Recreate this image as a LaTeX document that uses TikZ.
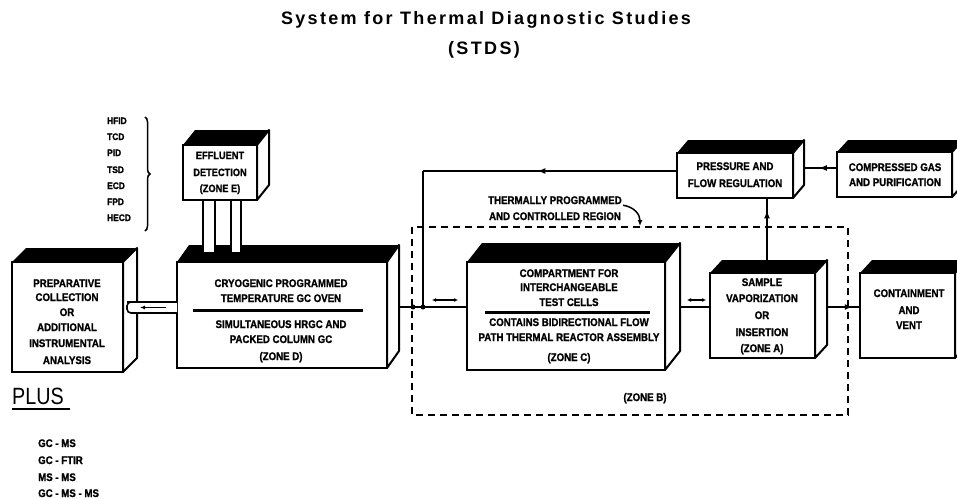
\documentclass[tikz,border=0pt]{standalone}
\usepackage{fontspec}
\setmainfont{Liberation Sans}
\newfontfamily\boxf[FakeStretch=0.88,FakeBold=1.2]{Liberation Sans Bold}
\newfontfamily\titlef[LetterSpace=13]{Liberation Sans}
\newfontfamily\plusf[FakeStretch=0.84]{Liberation Sans}
\usetikzlibrary{calc,arrows.meta,decorations.pathreplacing,decorations.markings}

\tikzset{
  front/.style={draw, line width=2.2pt, fill=white, anchor=north west, inner sep=0pt, outer sep=0pt},
  boxline/.style={line width=2pt},
  lbl/.style={font=\boxf\fontsize{11}{13}\selectfont, anchor=base, inner sep=0pt},
  smalllbl/.style={font=\boxf\fontsize{10.5}{12}\selectfont, anchor=base, inner sep=0pt},
  det/.style={font=\boxf\fontsize{9.5}{11}\selectfont, anchor=base west, inner sep=0pt},
  flow/.style={line width=1.8pt},
  tipmark/.style={postaction={decorate}, decoration={markings, mark=at position #1 with {\arrow{Latex[length=8pt,width=6pt]}}}},
  bidir/.style={line width=1.2pt, {Latex[length=4pt,width=4pt]}-{Latex[length=4pt,width=4pt]}},
  region/.style={line width=2pt, dash pattern=on 7pt off 5pt},
}
\newcommand\mkdepth[3]{%
  \fill (#1.north west) -- ++(#2,-#3) -- ($(#1.north east)+(#2,-#3)$) -- (#1.north east) -- cycle;
  \draw[boxline, fill=white, line join=round] (#1.north east) -- ++(#2,-#3) -- ($(#1.south east)+(#2,-#3)$) -- (#1.south east) -- cycle;
}

\begin{document}
\begin{tikzpicture}[x=1pt, y=-1pt]
\path[use as bounding box] (0,0) rectangle (957,498);
\clip (0,0) rectangle (957,498);

% Title
\node[font=\titlef\bfseries\fontsize{18}{20}\selectfont, anchor=base, inner sep=0pt] (title) at (486,24.5) {System for Thermal Diagnostic Studies};
\node[font=\titlef\bfseries\fontsize{18}{20}\selectfont, anchor=base, inner sep=0pt] (stds) at (484,54.5) {(STDS)};

% Detector list and brace
\node[det] (d1) at (107,124) {HFID};
\node[det] (d2) at (107,140) {TCD};
\node[det] (d3) at (107,156) {PID};
\node[det] (d4) at (107,173) {TSD};
\node[det] (d5) at (107,189) {ECD};
\node[det] (d6) at (107,205) {FPD};
\node[det] (d7) at (107,221) {HECD};
\draw[line width=1.5pt, decorate, decoration={brace, amplitude=5pt}] (145,117) -- (145,231);

% Dashed region
\draw[region] (412,227) rectangle (848,415);
\node[lbl] (thermA) at (555,204) {THERMALLY PROGRAMMED};
\node[lbl] (thermB) at (555,220) {AND CONTROLLED REGION};
\draw[line width=1.5pt, -{Latex[length=6pt,width=5pt]}] (thermB.east) ++(2,-11) .. controls (634,207) and (640,214) .. (640,226);
\node[lbl] (zoneB) at (645,401) {(ZONE B)};

% Effluent detection
\node[front, minimum width=74, minimum height=55] (eff) at (183,145) {};
\mkdepth{eff}{12}{15}
\node[smalllbl] (effA) at (220,159) {EFFLUENT};
\node[smalllbl] (effB) at (220,176) {DETECTION};
\node[smalllbl] (effC) at (220,192) {(ZONE E)};

% Preparative collection
\node[front, minimum width=111, minimum height=110] (prep) at (12,262) {};
\mkdepth{prep}{14}{14}
\node[lbl] (prA) at (67,287) {PREPARATIVE};
\node[lbl] (prB) at (67,301) {COLLECTION};
\node[lbl] (prC) at (67,316) {OR};
\node[lbl] (prD) at (67,331) {ADDITIONAL};
\node[lbl] (prE) at (67,347) {INSTRUMENTAL};
\node[lbl] (prF) at (67,364) {ANALYSIS};

% Oven (zone D)
\node[front, minimum width=210, minimum height=106] (oven) at (177,262) {};
\mkdepth{oven}{12}{17}
\node[lbl] (ovA) at (281,287) {CRYOGENIC PROGRAMMED};
\node[lbl] (ovB) at (281,302) {TEMPERATURE GC OVEN};
\draw[line width=3pt] (193,310) -- (363,310);
\node[lbl] (ovC) at (281,328) {SIMULTANEOUS HRGC AND};
\node[lbl] (ovD) at (281,343) {PACKED COLUMN GC};
\node[lbl] (ovE) at (281,360) {(ZONE D)};

% tubes to effluent detector
\draw[line width=1.6pt, fill=white] (203,200) rectangle (215,253);
\draw[line width=1.6pt, fill=white] (231,200) rectangle (241,253);

% tube oven -> preparative
\draw[line width=1.6pt, fill=white, rounded corners=4pt] (177,302) -- (131,302) -- (127,302) -- (127,313) -- (177,313);
\draw[line width=1.4pt, -{Latex[length=5pt,width=4pt]}] (166,307.5) -- (140,307.5);

% Compartment (zone C)
\node[front, minimum width=198, minimum height=108] (zc) at (467,262) {};
\mkdepth{zc}{15}{19}
\node[lbl] (zcA) at (569,277) {COMPARTMENT FOR};
\node[lbl] (zcB) at (569,291) {INTERCHANGEABLE};
\node[lbl] (zcC) at (569,306) {TEST CELLS};
\draw[line width=3pt] (485,312) -- (650,312);
\node[lbl] (zcD) at (569,326) {CONTAINS BIDIRECTIONAL FLOW};
\node[lbl] (zcE) at (569,341) {PATH THERMAL REACTOR ASSEMBLY};
\node[lbl] (zcF) at (569,361) {(ZONE C)};

% Sample vaporization (zone A)
\node[front, minimum width=105, minimum height=85] (za) at (710,273) {};
\mkdepth{za}{12}{13}
\node[lbl] (zaA) at (762,286) {SAMPLE};
\node[lbl] (zaB) at (762,302) {VAPORIZATION};
\node[lbl] (zaC) at (762,319) {OR};
\node[lbl] (zaD) at (762,336) {INSERTION};
\node[lbl] (zaE) at (762,352) {(ZONE A)};

% Containment and vent
\node[front, minimum width=95, minimum height=85] (vent) at (860,273) {};
\mkdepth{vent}{12}{13}
\node[lbl] (veA) at (909,297) {CONTAINMENT};
\node[lbl] (veB) at (909,314) {AND};
\node[lbl] (veC) at (909,329) {VENT};

% Pressure and flow regulation
\node[front, minimum width=116, minimum height=45] (press) at (677,153) {};
\mkdepth{press}{11}{13}
\node[lbl] (psA) at (735,170) {PRESSURE AND};
\node[lbl] (psB) at (735,187) {FLOW REGULATION};

% Compressed gas
\node[front, minimum width=115, minimum height=45] (gas) at (837,152) {};
\mkdepth{gas}{11}{12}
\node[lbl] (gsA) at (895,171) {COMPRESSED GAS};
\node[lbl] (gsB) at (895,186) {AND PURIFICATION};

% connector coordinates
\coordinate (ovenR) at (399,307);
\coordinate (jn) at (423,307);
\coordinate (jnTop) at (423,171);
\coordinate (pressL) at (677,171);
\coordinate (zcL) at (467,307);
\coordinate (zcR) at (680,307);
\coordinate (zaL) at (710,307);
\coordinate (zaR) at (827,307);
\coordinate (ventL) at (860,307);
\coordinate (pressB) at (767,198);
\coordinate (zaT) at (767,260);
\coordinate (pressR) at (804,168);
\coordinate (gasL) at (837,168);

\draw[flow] (ovenR) -- (zcL);
\draw[flow, tipmark=0.55] (pressL) -- (jnTop);
\draw[flow] (jnTop) -- (jn);
\fill (jn) circle (2.5pt);
\fill (413,307) circle (2.5pt);
\draw[bidir] (432,300) -- (458,300);
\draw[flow] (zcR) -- (zaL);
\draw[bidir] (687,300) -- (706,300);
\draw[flow, tipmark=0.78] (zaR) -- (ventL);
\draw[flow, tipmark=0.8] (zaT) -- (pressB);
\draw[flow, tipmark=0.55] (gasL) -- (pressR);

% PLUS list
\node[font=\plusf\fontsize{23.5}{26}\selectfont, anchor=base west, inner sep=0pt] (plus) at (12,404.5) {PLUS};
\draw[line width=1.3pt] (12,409) -- (70,409);
\node[lbl, anchor=base west] (l1) at (38,447) {GC - MS};
\node[lbl, anchor=base west] (l2) at (38,464) {GC - FTIR};
\node[lbl, anchor=base west] (l3) at (38,481) {MS - MS};
\node[lbl, anchor=base west] (l4) at (38,497) {GC - MS - MS};
\end{tikzpicture}
\end{document}
